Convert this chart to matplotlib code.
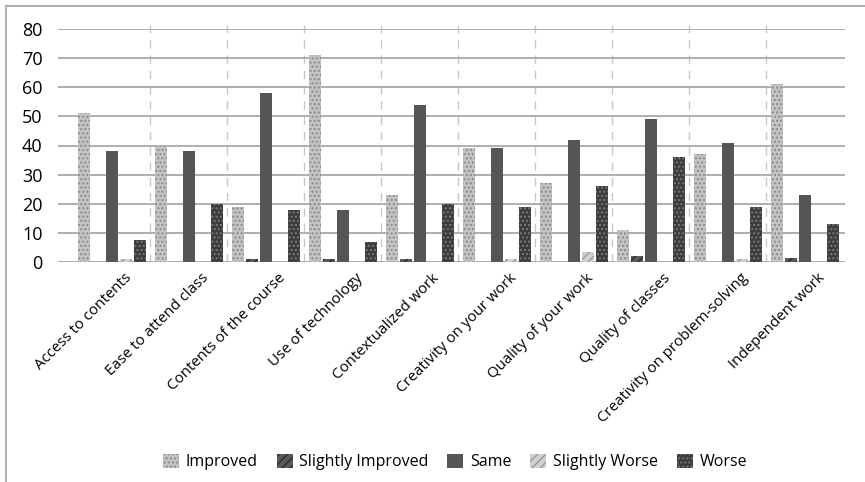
import numpy as np
import matplotlib
matplotlib.use("Agg")
import matplotlib.pyplot as plt
import matplotlib.transforms as mtransforms
from matplotlib.patches import Patch
from matplotlib.lines import Line2D

plt.rcParams['font.family'] = ['Open Sans', 'DejaVu Sans']
plt.rcParams['hatch.linewidth'] = 1.0

categories = ["Access to contents", "Ease to attend class", "Contents of the course",
              "Use of technology", "Contextualized work", "Creativity on your work",
              "Quality of your work", "Quality of classes",
              "Creativity on problem-solving", "Independent work"]
series = ["Improved", "Slightly Improved", "Same", "Slightly Worse", "Worse"]

improved = [51, 40, 19, 71, 23, 39, 27, 11, 37, 61]
slightly_improved = [0, 0, 1, 1, 1, 0, 0, 2, 0, 1.5]
same = [38, 38, 58, 18, 54, 39, 42, 49, 41, 23]
slightly_worse = [1, 0, 0, 0, 0, 1, 3.5, 0, 1, 0]
worse = [7.5, 20, 18, 7, 20, 19, 26, 36, 19, 13]

values = [improved, slightly_improved, same, slightly_worse, worse]
# face, hatch, hatch colour
styles = [("#c4c4c4", "....", "#8a8a8a"),
          ("#5a5a5a", "////", "#2a2a2a"),
          ("#555555", "", "#555555"),
          ("#d0d0d0", "////", "#9a9a9a"),
          ("#3c3c3c", "....", "#7a7a7a")]

fig = plt.figure(figsize=(8.65, 4.82), dpi=100)
ax = fig.add_axes([58 / 865, 1 - 262 / 482, 787 / 865, 233 / 482])

x = np.arange(len(categories))
step = 0.183
width = 0.158
for i, (vals, (fc, hatch, hc)) in enumerate(zip(values, styles)):
    ax.bar(x + (i - 2) * step, vals, width, color=fc, hatch=hatch,
           edgecolor=hc, linewidth=0, zorder=3)

ax.set_ylim(0, 80)
ax.set_xlim(-0.70, 9.52)
ax.set_yticks(range(0, 81, 10))
ax.yaxis.grid(True, color="#a8a8a8", linewidth=1.3, zorder=1)
for sx in x[:-1] + 0.5:
    ax.plot([sx, sx], [0, 81.5], color="#c8c8c8", linewidth=1.0,
            linestyle=(0, (6, 5)), zorder=1, clip_on=False)
for s in ax.spines.values():
    s.set_visible(False)
ax.tick_params(axis="both", length=0, colors="#000000")
ax.tick_params(axis="y", labelsize=13, pad=11)
ax.set_xticks(x)
ax.set_xticklabels(categories, rotation=45, ha="right", rotation_mode="anchor",
                   fontsize=10.8)
ax.tick_params(axis="x", pad=4)
shift = mtransforms.ScaledTranslation(0.12, -0.03, fig.dpi_scale_trans)
for lbl in ax.get_xticklabels():
    lbl.set_transform(lbl.get_transform() + shift)

handles = [Patch(facecolor=fc, hatch=hatch, edgecolor=hc, linewidth=0)
           for fc, hatch, hc in styles]
fig.legend(handles, series, loc="center", bbox_to_anchor=(455 / 865, 1 - 462 / 482),
           ncol=5, frameon=False, fontsize=11.5, handlelength=1.0, handleheight=1.0,
           handletextpad=0.4, columnspacing=1.2)

# outer chart border
fig.add_artist(Line2D([6 / 865, 6 / 865], [0, 1 - 6 / 482], transform=fig.transFigure,
                      color="#b0b0b0", linewidth=1.5))
fig.add_artist(Line2D([6 / 865, 1], [1 - 6 / 482, 1 - 6 / 482], transform=fig.transFigure,
                      color="#b0b0b0", linewidth=1.5))

fig.savefig("out.png", dpi=100)
